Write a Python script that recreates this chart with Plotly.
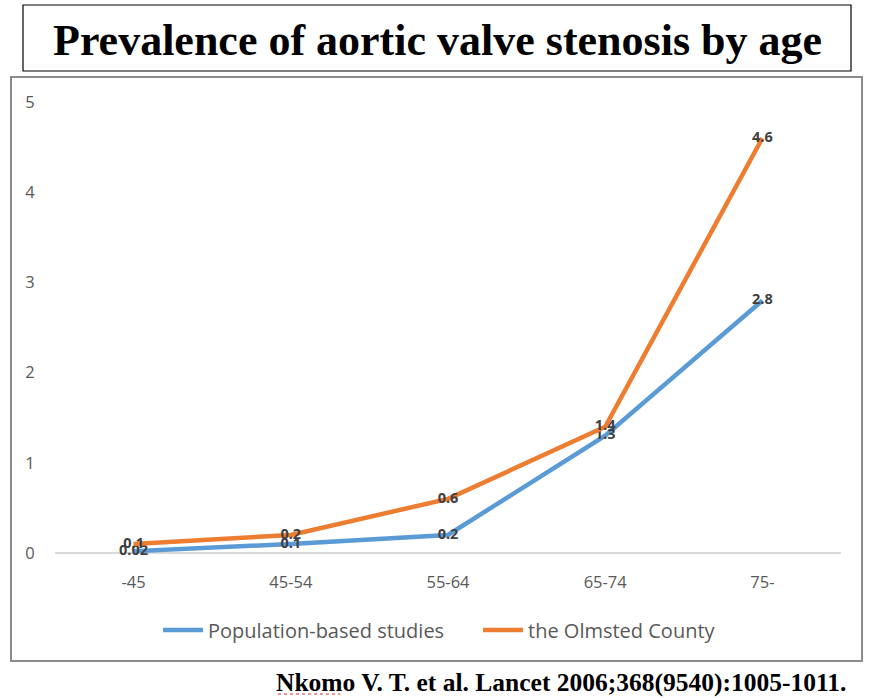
import plotly.graph_objects as go

categories = ["-45", "45-54", "55-64", "65-74", "75-"]
population_based = [0.02, 0.1, 0.2, 1.3, 2.8]
olmsted_county = [0.1, 0.2, 0.6, 1.4, 4.6]
series_names = ["Population-based studies", "the Olmsted County"]
y_ticks = [0, 1, 2, 3, 4, 5]

W, H = 870, 698
L, R, T, B = 55, 841, 102, 553  # plot area pixel edges

def px(x):
    return (x - L) / (R - L)

def py(y):
    return (B - y) / (B - T)

label_font = dict(family="Open Sans", size=14.5, color="#404040", weight="bold")

fig = go.Figure()
fig.add_trace(go.Scatter(
    x=categories, y=population_based, name=series_names[0],
    mode="lines+text", text=[str(v) for v in population_based],
    textposition="middle center", textfont=label_font,
    line=dict(color="#5B9BD5", width=4.5), cliponaxis=False, legend="legend",
))
fig.add_trace(go.Scatter(
    x=categories, y=olmsted_county, name=series_names[1],
    mode="lines+text", text=[str(v) for v in olmsted_county],
    textposition="middle center", textfont=label_font,
    line=dict(color="#ED7D31", width=4.5), cliponaxis=False, legend="legend2",
))

shapes = [
    dict(type="rect", xref="paper", yref="paper", x0=px(23), x1=px(851), y0=py(71), y1=py(5),
         line=dict(color="black", width=1.2), fillcolor="rgba(0,0,0,0)", layer="below"),
    dict(type="rect", xref="paper", yref="paper", x0=px(11), x1=px(862), y0=py(661), y1=py(77),
         line=dict(color="#8c8c8c", width=2), fillcolor="rgba(0,0,0,0)", layer="below"),
    dict(type="line", xref="paper", yref="paper", x0=px(278), x1=px(340), y0=py(694), y1=py(694),
         line=dict(color="#e03030", width=1, dash="dot")),
]

annotations = [
    dict(text="<b>Prevalence of aortic valve stenosis by age</b>", xref="paper", yref="paper",
         x=px(437), y=py(40), xanchor="center", yanchor="middle", showarrow=False,
         font=dict(family="Liberation Serif", size=44, color="black")),
    dict(text="<b>Nkomo V. T. et al. Lancet 2006;368(9540):1005-1011.</b>", xref="paper", yref="paper",
         x=px(848), y=py(682), xanchor="right", yanchor="middle", showarrow=False,
         font=dict(family="Liberation Serif", size=25.5, color="black")),
]

legend_common = dict(orientation="h", yanchor="middle", xanchor="left",
                     font=dict(family="Open Sans", size=20, color="#595959"),
                     itemwidth=40, bgcolor="rgba(0,0,0,0)")

fig.update_layout(
    width=W, height=H,
    margin=dict(l=L, r=W - R, t=T, b=H - B, autoexpand=False),
    paper_bgcolor="white", plot_bgcolor="white",
    showlegend=True,
    legend=dict(x=px(158), y=py(630), **legend_common),
    legend2=dict(x=px(478), y=py(630), **legend_common),
    xaxis=dict(type="category", categoryorder="array", categoryarray=categories,
               range=[-0.5, 4.5], showgrid=False, zeroline=False,
               showline=False, ticks="outside", ticklen=14, tickcolor="rgba(0,0,0,0)",
               tickfont=dict(family="Open Sans", size=16.5, color="#595959")),
    yaxis=dict(range=[0, 5], tickvals=y_ticks, showgrid=False, zeroline=True,
               zerolinecolor="#d9d9d9", zerolinewidth=1.5, showline=False,
               ticks="outside", ticklen=16, tickcolor="rgba(0,0,0,0)",
               tickfont=dict(family="Open Sans", size=16.5, color="#595959")),
    shapes=shapes, annotations=annotations,
)

fig.write_html("out.html", config={"displayModeBar": False},
               post_script="document.body.style.margin='0';document.body.style.overflow='hidden';")
